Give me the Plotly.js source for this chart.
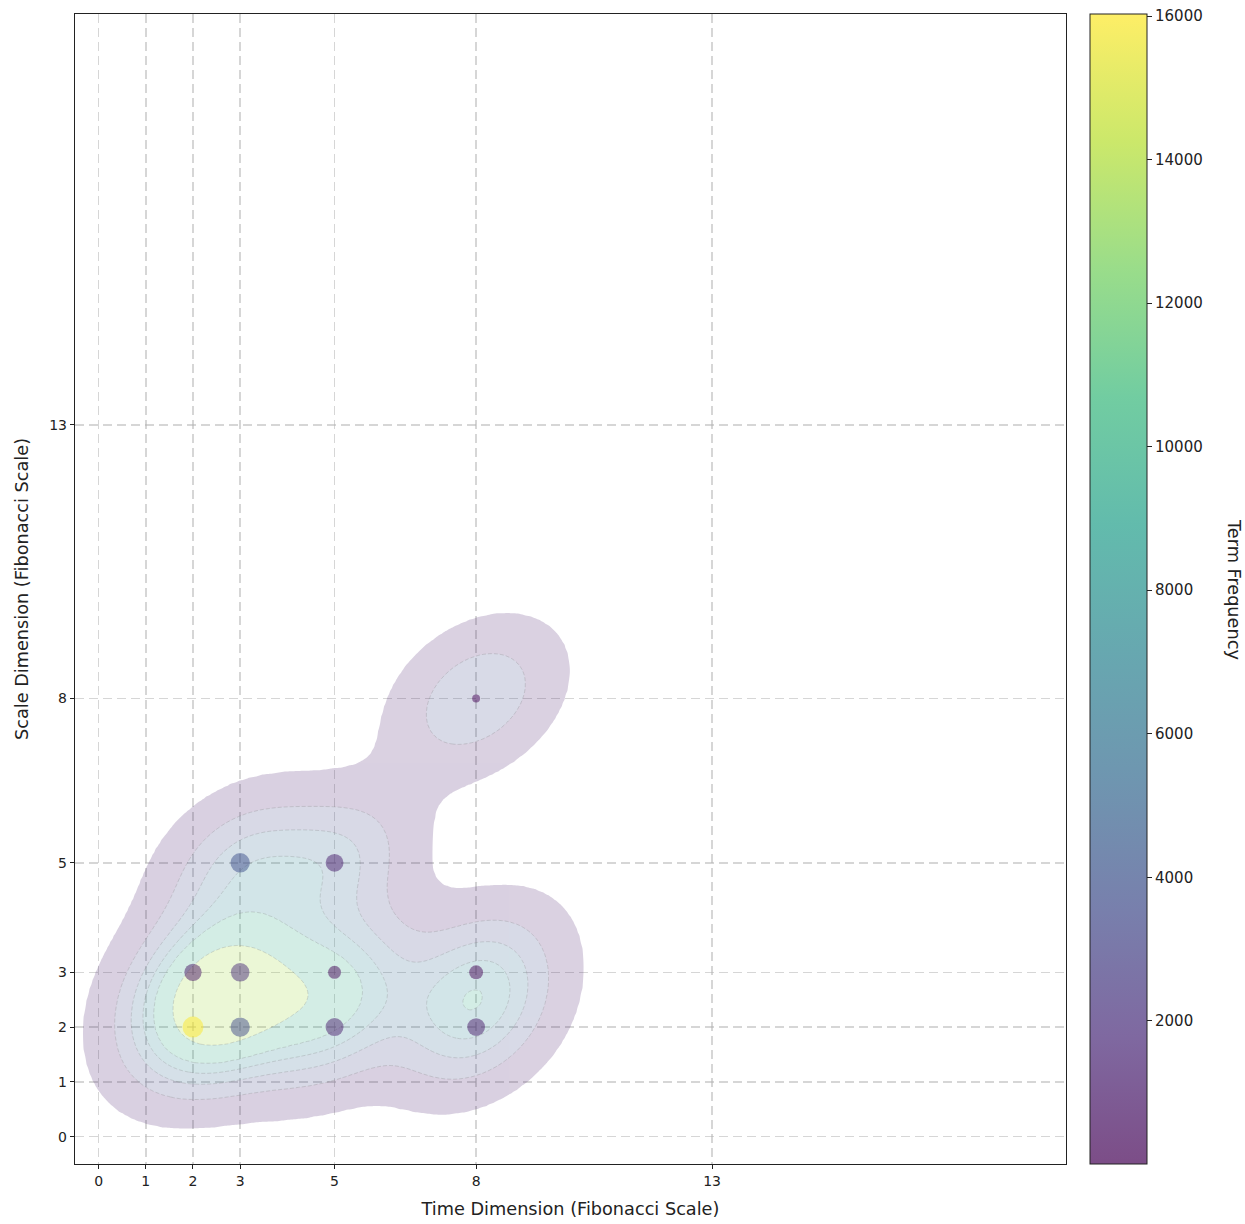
<!DOCTYPE html>
<html>
<head>
<meta charset="utf-8">
<script src="https://cdn.plot.ly/plotly-3.0.1.min.js"></script>
<style>
  html, body { margin: 0; padding: 0; background: #fff; }
  #chart { width: 1245px; height: 1224px; }
</style>
</head>
<body>
<div id="chart"></div>
<script>
// Observations on the Fibonacci time/scale lattice
const timeDim  = [2, 3, 5, 8, 2, 3, 5, 8, 3, 5, 8];
const scaleDim = [2, 2, 2, 2, 3, 3, 3, 3, 5, 5, 8];
const termFreq = [16030, 3500, 1200, 1000, 700, 1900, 40, 70, 3800, 1100, 4];

// Axis ticks
const fibTicks  = [0, 1, 2, 3, 5, 8, 13];
const freqTicks = [2000, 4000, 6000, 8000, 10000, 12000, 14000, 16000];

// Density estimate settings
const BW_ADJUST = 0.7;
const N_LEVELS = 7;
const THRESH = 0.05;

// Viridis anchor colours
const VIRIDIS = ['#440154', '#482878', '#3e4989', '#31688e', '#26828e',
                 '#1f9e89', '#35b779', '#6ece58', '#b5de2b', '#fde725'];

function hexRgb(h) {
  return [parseInt(h.slice(1, 3), 16), parseInt(h.slice(3, 5), 16), parseInt(h.slice(5, 7), 16)];
}
function viridis(t) {
  t = Math.max(0, Math.min(1, t));
  const p = t * (VIRIDIS.length - 1);
  const i = Math.min(Math.floor(p), VIRIDIS.length - 2);
  const f = p - i;
  const a = hexRgb(VIRIDIS[i]), b = hexRgb(VIRIDIS[i + 1]);
  return a.map((v, k) => Math.round(v + (b[k] - v) * f));
}

// Bivariate Gaussian KDE (Scott bandwidth x adjust), evaluated on a 200x200 grid with cut = 3
function gaussianKde(xs, ys, adjust) {
  const n = xs.length;
  const mx = xs.reduce((s, v) => s + v, 0) / n;
  const my = ys.reduce((s, v) => s + v, 0) / n;
  let sxx = 0, syy = 0, sxy = 0;
  for (let i = 0; i < n; i++) {
    const dx = xs[i] - mx, dy = ys[i] - my;
    sxx += dx * dx; syy += dy * dy; sxy += dx * dy;
  }
  sxx /= (n - 1); syy /= (n - 1); sxy /= (n - 1);
  const fac = Math.pow(n, -1 / 6) * adjust;
  const cxx = sxx * fac * fac, cyy = syy * fac * fac, cxy = sxy * fac * fac;
  const det = cxx * cyy - cxy * cxy;
  const ixx = cyy / det, iyy = cxx / det, ixy = -cxy / det;
  const norm = 1 / (2 * Math.PI * Math.sqrt(det) * n);
  const bwx = Math.sqrt(cxx), bwy = Math.sqrt(cyy);
  const cut = 3, gs = 200;
  const x0 = Math.min(...xs) - cut * bwx, x1 = Math.max(...xs) + cut * bwx;
  const y0 = Math.min(...ys) - cut * bwy, y1 = Math.max(...ys) + cut * bwy;
  const gx = [], gy = [];
  for (let i = 0; i < gs; i++) {
    gx.push(x0 + (x1 - x0) * i / (gs - 1));
    gy.push(y0 + (y1 - y0) * i / (gs - 1));
  }
  const z = [];
  for (let j = 0; j < gs; j++) {
    const row = [];
    for (let i = 0; i < gs; i++) {
      let s = 0;
      for (let k = 0; k < n; k++) {
        const dx = gx[i] - xs[k], dy = gy[j] - ys[k];
        s += Math.exp(-0.5 * (ixx * dx * dx + 2 * ixy * dx * dy + iyy * dy * dy));
      }
      row.push(s * norm);
    }
    z.push(row);
  }
  return { gx, gy, z };
}

// Iso-proportion levels -> iso-density levels
function quantileLevels(z, isoprops) {
  const vals = z.flat().sort((a, b) => b - a);
  const total = vals.reduce((s, v) => s + v, 0);
  const cum = [];
  let acc = 0;
  for (const v of vals) { acc += v; cum.push(acc / total); }
  return isoprops.map(p => {
    const target = 1 - p;
    let lo = 0, hi = cum.length;
    while (lo < hi) { const mid = (lo + hi) >> 1; if (cum[mid] < target) lo = mid + 1; else hi = mid; }
    return vals[Math.min(lo, vals.length - 1)];
  });
}

const kde = gaussianKde(timeDim, scaleDim, BW_ADJUST);
const isoprops = Array.from({ length: N_LEVELS }, (_, i) => THRESH + i * (1 - THRESH) / (N_LEVELS - 1));
const levels = quantileLevels(kde.z, isoprops);

// Map density onto level-index space so evenly spaced contours land on the iso-density levels
function toLevelSpace(d) {
  if (d < levels[0]) return d / levels[0] - 1;
  for (let i = 0; i < levels.length - 1; i++) {
    if (d <= levels[i + 1]) return i + (d - levels[i]) / (levels[i + 1] - levels[i]);
  }
  return levels.length - 1;
}
const zIdx = kde.z.map(r => r.map(toLevelSpace));

// Band colours: band midpoint normalised between lowest and highest level
const Lmin = levels[0], Lmax = levels[levels.length - 1];
const fillScale = [[0, 'rgba(255,255,255,0)']];
for (let i = 0; i < levels.length - 1; i++) {
  const m = (levels[i] + levels[i + 1]) / 2;
  const c = viridis((m - Lmin) / (Lmax - Lmin));
  fillScale.push([(i + 1) / (levels.length), 'rgb(' + c.join(',') + ')']);
}
fillScale.push([1, fillScale[fillScale.length - 1][1]]);

// Marker colour scale: viridis at 0.7 alpha
const markerScale = VIRIDIS.map((h, i) => [i / (VIRIDIS.length - 1), 'rgba(' + hexRgb(h).join(',') + ',0.7)']);

const fMax = Math.max(...termFreq), fMin = Math.min(...termFreq);
const markerSizes = termFreq.map(f => 21 * Math.sqrt(Math.log(f) / Math.log(fMax)));

const font = 'DejaVu Sans, Liberation Sans, sans-serif';

const densityFill = {
  type: 'contour',
  x: kde.gx, y: kde.gy, z: zIdx,
  autocontour: false,
  contours: { start: 0, end: levels.length - 1, size: 1, coloring: 'fill', showlines: false },
  colorscale: fillScale,
  line: { width: 0, smoothing: 1 },
  opacity: 0.2,
  showscale: false,
  hoverinfo: 'skip'
};

const densityLines = {
  type: 'contour',
  x: kde.gx, y: kde.gy, z: zIdx,
  autocontour: false,
  contours: { start: 1, end: levels.length - 2, size: 1, coloring: 'none', showlines: true },
  line: { color: 'rgb(120,120,120)', width: 0.7, dash: '4px,2px', smoothing: 1 },
  opacity: 0.35,
  showscale: false,
  hoverinfo: 'skip'
};

const points = {
  type: 'scatter',
  mode: 'markers',
  x: timeDim, y: scaleDim,
  marker: {
    color: termFreq,
    colorscale: markerScale,
    cmin: fMin, cmax: fMax,
    size: markerSizes,
    line: { width: 0 },
    showscale: true,
    colorbar: {
      x: (1090 - 75) / 991, xanchor: 'left', xpad: 0,
      y: 0.5, yanchor: 'middle', ypad: 0,
      len: 1, lenmode: 'fraction',
      thickness: 57, thicknessmode: 'pixels',
      outlinewidth: 1, outlinecolor: '#222',
      tickvals: freqTicks,
      tickformat: 'd',
      ticks: 'outside', ticklen: 5, tickcolor: '#222',
      tickfont: { family: font, size: 15, color: '#222' }
    }
  },
  hovertemplate: 'Time %{x}, Scale %{y}<br>Frequency %{marker.color}<extra></extra>'
};

const axisCommon = {
  range: [-0.5, 20.5],
  tickvals: fibTicks,
  showgrid: true,
  gridcolor: 'rgba(180,180,180,0.55)',
  gridwidth: 1.6,
  griddash: '9px,5px',
  zeroline: false,
  showline: true,
  linecolor: '#222',
  linewidth: 1.2,
  mirror: true,
  ticks: 'outside',
  ticklen: 4,
  tickcolor: '#222',
  tickfont: { family: font, size: 14, color: '#222' }
};

const layout = {
  width: 1245, height: 1224,
  margin: { l: 75, r: 179, t: 14, b: 60 },
  paper_bgcolor: '#fff',
  plot_bgcolor: '#fff',
  showlegend: false,
  font: { family: font, color: '#222' },
  xaxis: Object.assign({}, axisCommon, {
    title: { text: 'Time Dimension (Fibonacci Scale)', font: { family: font, size: 17.7, color: '#222' }, standoff: 14 }
  }),
  yaxis: Object.assign({}, axisCommon, {
    title: { text: 'Scale Dimension (Fibonacci Scale)', font: { family: font, size: 17.7, color: '#222' }, standoff: 16 }
  }),
  annotations: [{
    text: 'Term Frequency',
    xref: 'paper', yref: 'paper',
    x: (1234 - 75) / 991, y: 0.5,
    xanchor: 'center', yanchor: 'middle',
    textangle: 90,
    showarrow: false,
    font: { family: font, size: 17.7, color: '#222' }
  }]
};

Plotly.newPlot('chart', [densityFill, densityLines, points], layout, { displayModeBar: false, staticPlot: true });
</script>
</body>
</html>
